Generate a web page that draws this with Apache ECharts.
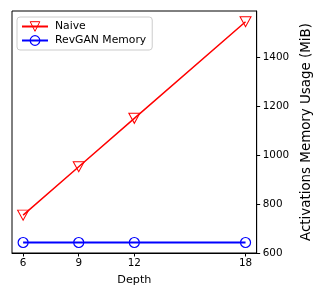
<!DOCTYPE html>
<html><head><meta charset="utf-8">
<script src="https://cdn.jsdelivr.net/npm/echarts@6/dist/echarts.min.js"></script>
<style>html,body{margin:0;padding:0;background:#fff}#c{width:321px;height:296px}</style>
</head><body><div id="c"></div>
<script>
const depths = [6, 9, 12, 18];
const naive = [755, 953, 1151, 1546];
const revgan = [643, 643, 643, 643];
const yTicks = [600, 800, 1000, 1200, 1400];
const xTicks = [6, 9, 12, 18];

const font = 'DejaVu Sans';
const tri = 'path://M0,0 L10,0 L5,8.66 Z';
const chart = echarts.init(document.getElementById('c'));
chart.setOption({
  animation: false,
  textStyle: {fontFamily: font},
  grid: {left: 12, right: 61, top: 11, bottom: 43, show: true, borderColor: '#000', borderWidth: 1, backgroundColor: 'transparent'},
  legend: {
    left: 17, top: 17, orient: 'vertical', itemGap: 3, itemWidth: 26, itemHeight: 12,
    padding: [4, 6, 4, 4], borderColor: '#cccccc', borderWidth: 1, borderRadius: 3, backgroundColor: '#fff',
    textStyle: {fontSize: 10.8, color: '#000', fontFamily: font, padding: [0, 0, 0, 2]},
    data: [
      {name: 'Naive', itemStyle: {color: 'rgba(0,0,0,0)', borderColor: '#ff0000', borderWidth: 1}},
      {name: 'RevGAN Memory', itemStyle: {color: 'rgba(0,0,0,0)', borderColor: '#0000ff', borderWidth: 1.2}}
    ]
  },
  xAxis: {
    type: 'value', min: 5.4, max: 18.6,
    name: 'Depth', nameLocation: 'middle', nameGap: 22,
    nameTextStyle: {fontSize: 11.2, color: '#000', fontFamily: font},
    axisLine: {show: true, lineStyle: {color: '#000'}},
    axisTick: {show: true, length: 3.5, lineStyle: {color: '#000'}, customValues: xTicks},
    axisLabel: {fontSize: 10.4, color: '#000', margin: 5, customValues: xTicks, fontFamily: font, formatter: v => String(v)},
    splitLine: {show: false}
  },
  yAxis: {
    type: 'value', position: 'right', min: 600, max: 1590,
    name: 'Activations Memory Usage (MiB)', nameLocation: 'middle', nameRotate: 90, nameGap: 43,
    nameTextStyle: {fontSize: 13.4, color: '#000', fontFamily: font},
    axisLine: {show: true, lineStyle: {color: '#000'}},
    axisTick: {show: true, length: 3.5, lineStyle: {color: '#000'}, customValues: yTicks},
    axisLabel: {fontSize: 10.4, color: '#000', margin: 6, customValues: yTicks, fontFamily: font, formatter: v => String(v)},
    splitLine: {show: false}
  },
  series: [
    {
      name: 'Naive', type: 'line',
      data: depths.map((d, i) => [d, naive[i]]),
      symbol: tri, symbolSize: [11, 10], showAllSymbol: true,
      lineStyle: {color: '#ff0000', width: 1.5},
      itemStyle: {color: 'rgba(0,0,0,0)', borderColor: '#ff0000', borderWidth: 1},
      z: 3
    },
    {
      name: 'RevGAN Memory', type: 'line',
      data: depths.map((d, i) => [d, revgan[i]]),
      symbol: 'circle', symbolSize: 10, showAllSymbol: true,
      lineStyle: {color: '#0000ff', width: 2.2},
      itemStyle: {color: 'rgba(0,0,0,0)', borderColor: '#0000ff', borderWidth: 1.2},
      z: 2
    }
  ]
});
</script></body></html>
